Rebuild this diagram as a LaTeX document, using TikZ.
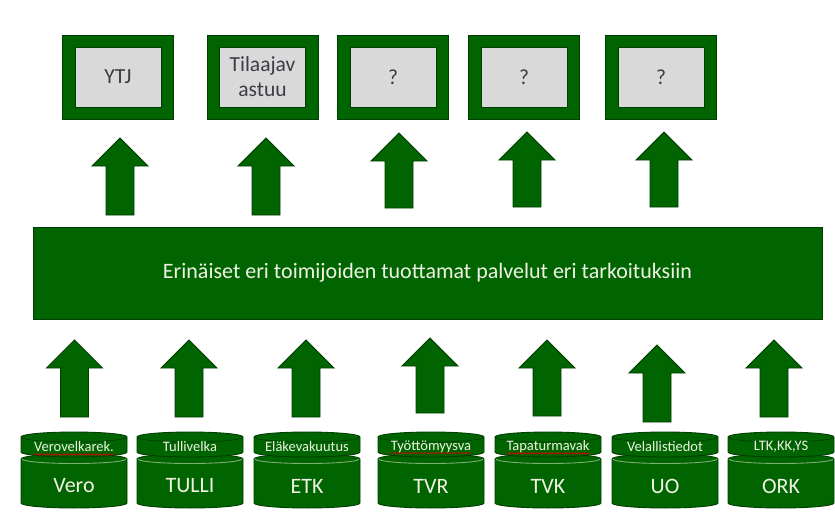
\documentclass[tikz,border=0pt]{standalone}
\usepackage{fontspec}
\setmainfont{Carlito}
\usetikzlibrary{decorations.pathmorphing}
\definecolor{gfill}{RGB}{0,100,0}
\definecolor{gedge}{RGB}{0,62,0}
\definecolor{glight}{RGB}{125,175,115}
\definecolor{boxgrey}{RGB}{217,217,217}
\definecolor{boxtext}{RGB}{60,60,70}
\definecolor{lighttext}{RGB}{240,243,228}
\tikzset{
  gshape/.style={fill=gfill, draw=gedge, line width=0.9pt},
  outerbox/.style={gshape, minimum width=111pt, minimum height=84pt, inner sep=0pt},
  innerbox/.style={fill=boxgrey, draw=gedge, line width=0.9pt, minimum width=86pt,
    minimum height=60pt, inner sep=0pt, text=boxtext, align=center,
    font=\fontsize{21.5}{25}\selectfont},
  banner/.style={gshape, minimum width=789pt, minimum height=92pt, inner sep=0pt,
    text=lighttext, font=\fontsize{22}{26}\selectfont},
  smalllabel/.style={inner sep=0pt, text=lighttext, font=\fontsize{14.5}{17}\selectfont},
  biglabel/.style={inner sep=0pt, text=lighttext, font=\fontsize{22}{26}\selectfont},
  rimlight/.style={draw=glight, line width=0.9pt},
  rimdark/.style={draw=gedge, line width=0.7pt},
  squiggle/.style={draw=red!85!black, line width=0.6pt, decorate,
    decoration={snake, segment length=3pt, amplitude=0.8pt}},
  pics/blockarrow/.style={code={
    \path[gshape] (-14,0) -- (-14,28-#1) -- (-28,28-#1) -- (0,-#1)
      -- (28,28-#1) -- (14,28-#1) -- (14,0) -- cycle;}}
}
\newcommand\dbunit[4]{%
  \path[gshape] (#2-53,459) -- (#2-53,503)
    arc[start angle=180,end angle=360,x radius=53pt,y radius=5pt]
    -- (#2+53,459) arc[start angle=0,end angle=180,x radius=53pt,y radius=5pt] -- cycle;
  \draw[rimlight] (#2-52,459) arc[start angle=180,end angle=360,x radius=52pt,y radius=4.5pt];
  \path[gshape] (#2-53,437) -- (#2-53,452)
    arc[start angle=180,end angle=360,x radius=53pt,y radius=5pt]
    -- (#2+53,437) arc[start angle=0,end angle=180,x radius=53pt,y radius=5pt] -- cycle;
  \draw[rimdark] (#2-53,437) arc[start angle=180,end angle=360,x radius=53pt,y radius=5pt];
  \node[smalllabel] (#1s) at (#2,447) {#3};
  \node[biglabel] (#1b) at (#2,486) {#4};
}
\begin{document}
\begin{tikzpicture}[x=1pt,y=-1pt]
\useasboundingbox (0,0) rectangle (835,520);
% top boxes
\node[outerbox] (o1) at (118,77) {};
\node[innerbox] (ytj) at (o1) {YTJ};
\node[outerbox] (o2) at (262.5,77) {};
\node[innerbox] (tila) at (o2) {Tilaajav\\astuu};
\node[outerbox] (o3) at (393,77) {};
\node[innerbox] (q3) at (o3) {?};
\node[outerbox] (o4) at (524,77.5) {};
\node[innerbox] (q4) at (o4) {?};
\node[outerbox] (o5) at (661,77) {};
\node[innerbox] (q5) at (o5) {?};
% top arrows
\pic at (120,215) {blockarrow=77};
\pic at (266,215) {blockarrow=77};
\pic at (399,208) {blockarrow=75};
\pic at (527,207) {blockarrow=75};
\pic at (664,207) {blockarrow=75};
% banner
\node[banner] (ban) at (427.5,273) {Erinäiset eri toimijoiden tuottamat palvelut eri tarkoituksiin};
% bottom arrows
\pic at (74.5,417) {blockarrow=77};
\pic at (189,417) {blockarrow=77};
\pic at (306,417) {blockarrow=77};
\pic at (430,413) {blockarrow=75};
\pic at (547,416) {blockarrow=76};
\pic at (657,422) {blockarrow=77};
\pic at (774,417) {blockarrow=77};
% databases
\dbunit{vero}{74}{Verovelkarek.}{Vero}
\dbunit{tulli}{190}{Tullivelka}{TULLI}
\dbunit{etk}{307}{Eläkevakuutus}{ETK}
\dbunit{tvr}{431}{Työttömyysva}{TVR}
\dbunit{tvk}{548}{Tapaturmavak}{TVK}
\dbunit{uo}{665}{Velallistiedot}{UO}
\dbunit{ork}{781}{LTK,KK,YS}{ORK}
\draw[squiggle] ([yshift=-2.5pt]veros.base west) -- ([yshift=-2.5pt]veros.base east);
\draw[squiggle] ([yshift=-2.5pt]tvrs.base west) -- ([yshift=-2.5pt]tvrs.base east);
\draw[squiggle] ([yshift=-2.5pt]tvks.base west) -- ([yshift=-2.5pt]tvks.base east);
\end{tikzpicture}
\end{document}
